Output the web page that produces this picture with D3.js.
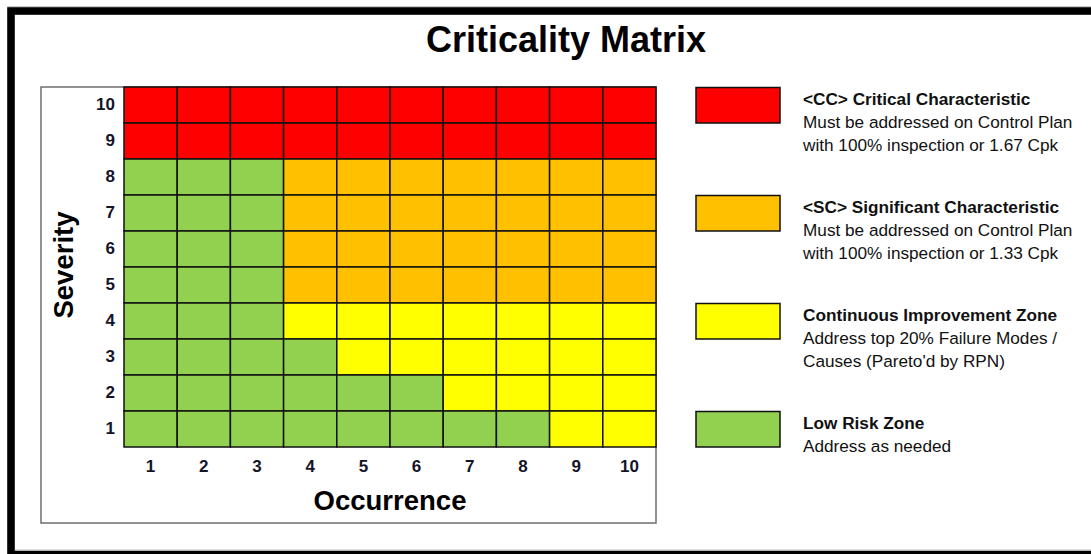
<!DOCTYPE html>
<html><head><meta charset="utf-8">
<script src="https://cdn.jsdelivr.net/npm/d3@7"></script>
<style>
html,body{margin:0;padding:0;background:#fff;}
svg{display:block;font-family:"Liberation Sans",Arial,sans-serif;}
</style></head>
<body>
<svg id="chart" width="1091" height="554"></svg>
<script>
// ---- data ----
const severity = [10, 9, 8, 7, 6, 5, 4, 3, 2, 1];
const occurrence = [1, 2, 3, 4, 5, 6, 7, 8, 9, 10];
// zone per cell, rows follow severity order, columns follow occurrence order
const cellZones = [
  ["CC","CC","CC","CC","CC","CC","CC","CC","CC","CC"], // 10
  ["CC","CC","CC","CC","CC","CC","CC","CC","CC","CC"], // 9
  ["LR","LR","LR","SC","SC","SC","SC","SC","SC","SC"], // 8
  ["LR","LR","LR","SC","SC","SC","SC","SC","SC","SC"], // 7
  ["LR","LR","LR","SC","SC","SC","SC","SC","SC","SC"], // 6
  ["LR","LR","LR","SC","SC","SC","SC","SC","SC","SC"], // 5
  ["LR","LR","LR","CI","CI","CI","CI","CI","CI","CI"], // 4
  ["LR","LR","LR","LR","CI","CI","CI","CI","CI","CI"], // 3
  ["LR","LR","LR","LR","LR","LR","CI","CI","CI","CI"], // 2
  ["LR","LR","LR","LR","LR","LR","LR","LR","CI","CI"]  // 1
];
const zoneCodes = ["CC", "SC", "CI", "LR"];
const zoneColors = ["#FF0000", "#FFC000", "#FFFF00", "#92D050"];
const zoneTitles = ["<CC> Critical Characteristic", "<SC> Significant Characteristic", "Continuous Improvement Zone", "Low Risk Zone"];
const zoneLines = [
  ["Must be addressed on Control Plan", "with 100% inspection or 1.67 Cpk"],
  ["Must be addressed on Control Plan", "with 100% inspection or 1.33 Cpk"],
  ["Address top 20% Failure Modes /", "Causes (Pareto'd by RPN)"],
  ["Address as needed"]
];
const legendAnchorSeverity = [10, 7, 4, 1];
const titleText = "Criticality Matrix";
const xTitle = "Occurrence";
const yTitle = "Severity";

// ---- drawing ----
const svg = d3.select("#chart");
const color = d3.scaleOrdinal().domain(zoneCodes).range(zoneColors);
const x = d3.scaleBand().domain(occurrence).range([124, 656]);
const y = d3.scaleBand().domain(severity).range([87, 447]);

// outer frame
svg.append("line").attr("x1", 7).attr("x2", 1091).attr("y1", 6.5).attr("y2", 6.5)
  .attr("stroke", "#c8c8c8").attr("stroke-width", 1);
svg.append("rect").attr("x", 11).attr("y", 11).attr("width", 1100).attr("height", 543.5)
  .attr("fill", "none").attr("stroke", "#000").attr("stroke-width", 7.6);
svg.append("line").attr("x1", 15).attr("x2", 1091).attr("y1", 550).attr("y2", 550)
  .attr("stroke", "#bbb").attr("stroke-width", 1.2);

// title
svg.append("text").attr("x", 566).attr("y", 52).attr("text-anchor", "middle")
  .attr("font-weight", "bold").attr("font-size", 36).attr("fill", "#000").text(titleText);

// plot box
svg.append("rect").attr("x", 41).attr("y", 87).attr("width", 615).attr("height", 436)
  .attr("fill", "#fff").attr("stroke", "#6e6e6e").attr("stroke-width", 1.5);

// cells
const cells = [];
severity.forEach((s, i) => occurrence.forEach((o, j) => cells.push({s, o, z: cellZones[i][j]})));
svg.append("g").selectAll("rect").data(cells).join("rect")
  .attr("x", d => x(d.o)).attr("y", d => y(d.s))
  .attr("width", x.bandwidth()).attr("height", y.bandwidth())
  .attr("fill", d => color(d.z)).attr("stroke", "#111").attr("stroke-width", 1.5);

// axes
const yAxis = svg.append("g").attr("transform", "translate(124,0)")
  .call(d3.axisLeft(y).tickSize(0).tickPadding(9));
const xAxis = svg.append("g").attr("transform", "translate(0,447)")
  .call(d3.axisBottom(x).tickSize(0).tickPadding(9));
[yAxis, xAxis].forEach(g => {
  g.select(".domain").remove();
  g.selectAll("text").attr("font-family", "Liberation Sans, Arial, sans-serif")
    .attr("font-weight", "bold").attr("font-size", 17).attr("fill", "#141428");
});
xAxis.selectAll("text").attr("dy", "0.95em");

// axis titles
svg.append("text").attr("x", 390).attr("y", 510).attr("text-anchor", "middle")
  .attr("font-weight", "bold").attr("font-size", 27.5).attr("fill", "#000").text(xTitle);
svg.append("text").attr("transform", "translate(73,265) rotate(-90)").attr("text-anchor", "middle")
  .attr("font-weight", "bold").attr("font-size", 27.5).attr("fill", "#000").text(yTitle);

// legend
const lg = svg.append("g").selectAll("g").data(zoneCodes).join("g")
  .attr("transform", (d, i) => `translate(0,${y(legendAnchorSeverity[i])})`);
lg.append("rect").attr("x", 696).attr("y", 0.5).attr("width", 84).attr("height", 35.5)
  .attr("fill", d => color(d)).attr("stroke", "#111").attr("stroke-width", 1.5);
lg.append("text").attr("x", 803).attr("y", 17.5).attr("font-weight", "bold")
  .attr("font-size", 17.2).attr("fill", "#111").text((d, i) => zoneTitles[i]);
lg.each(function(d, i) {
  d3.select(this).selectAll("text.sub").data(zoneLines[i]).join("text").attr("class", "sub")
    .attr("x", 803).attr("y", (t, k) => 41 + k * 22.5)
    .attr("font-size", 17.2).attr("fill", "#111").text(t => t);
});
</script>
</body></html>
